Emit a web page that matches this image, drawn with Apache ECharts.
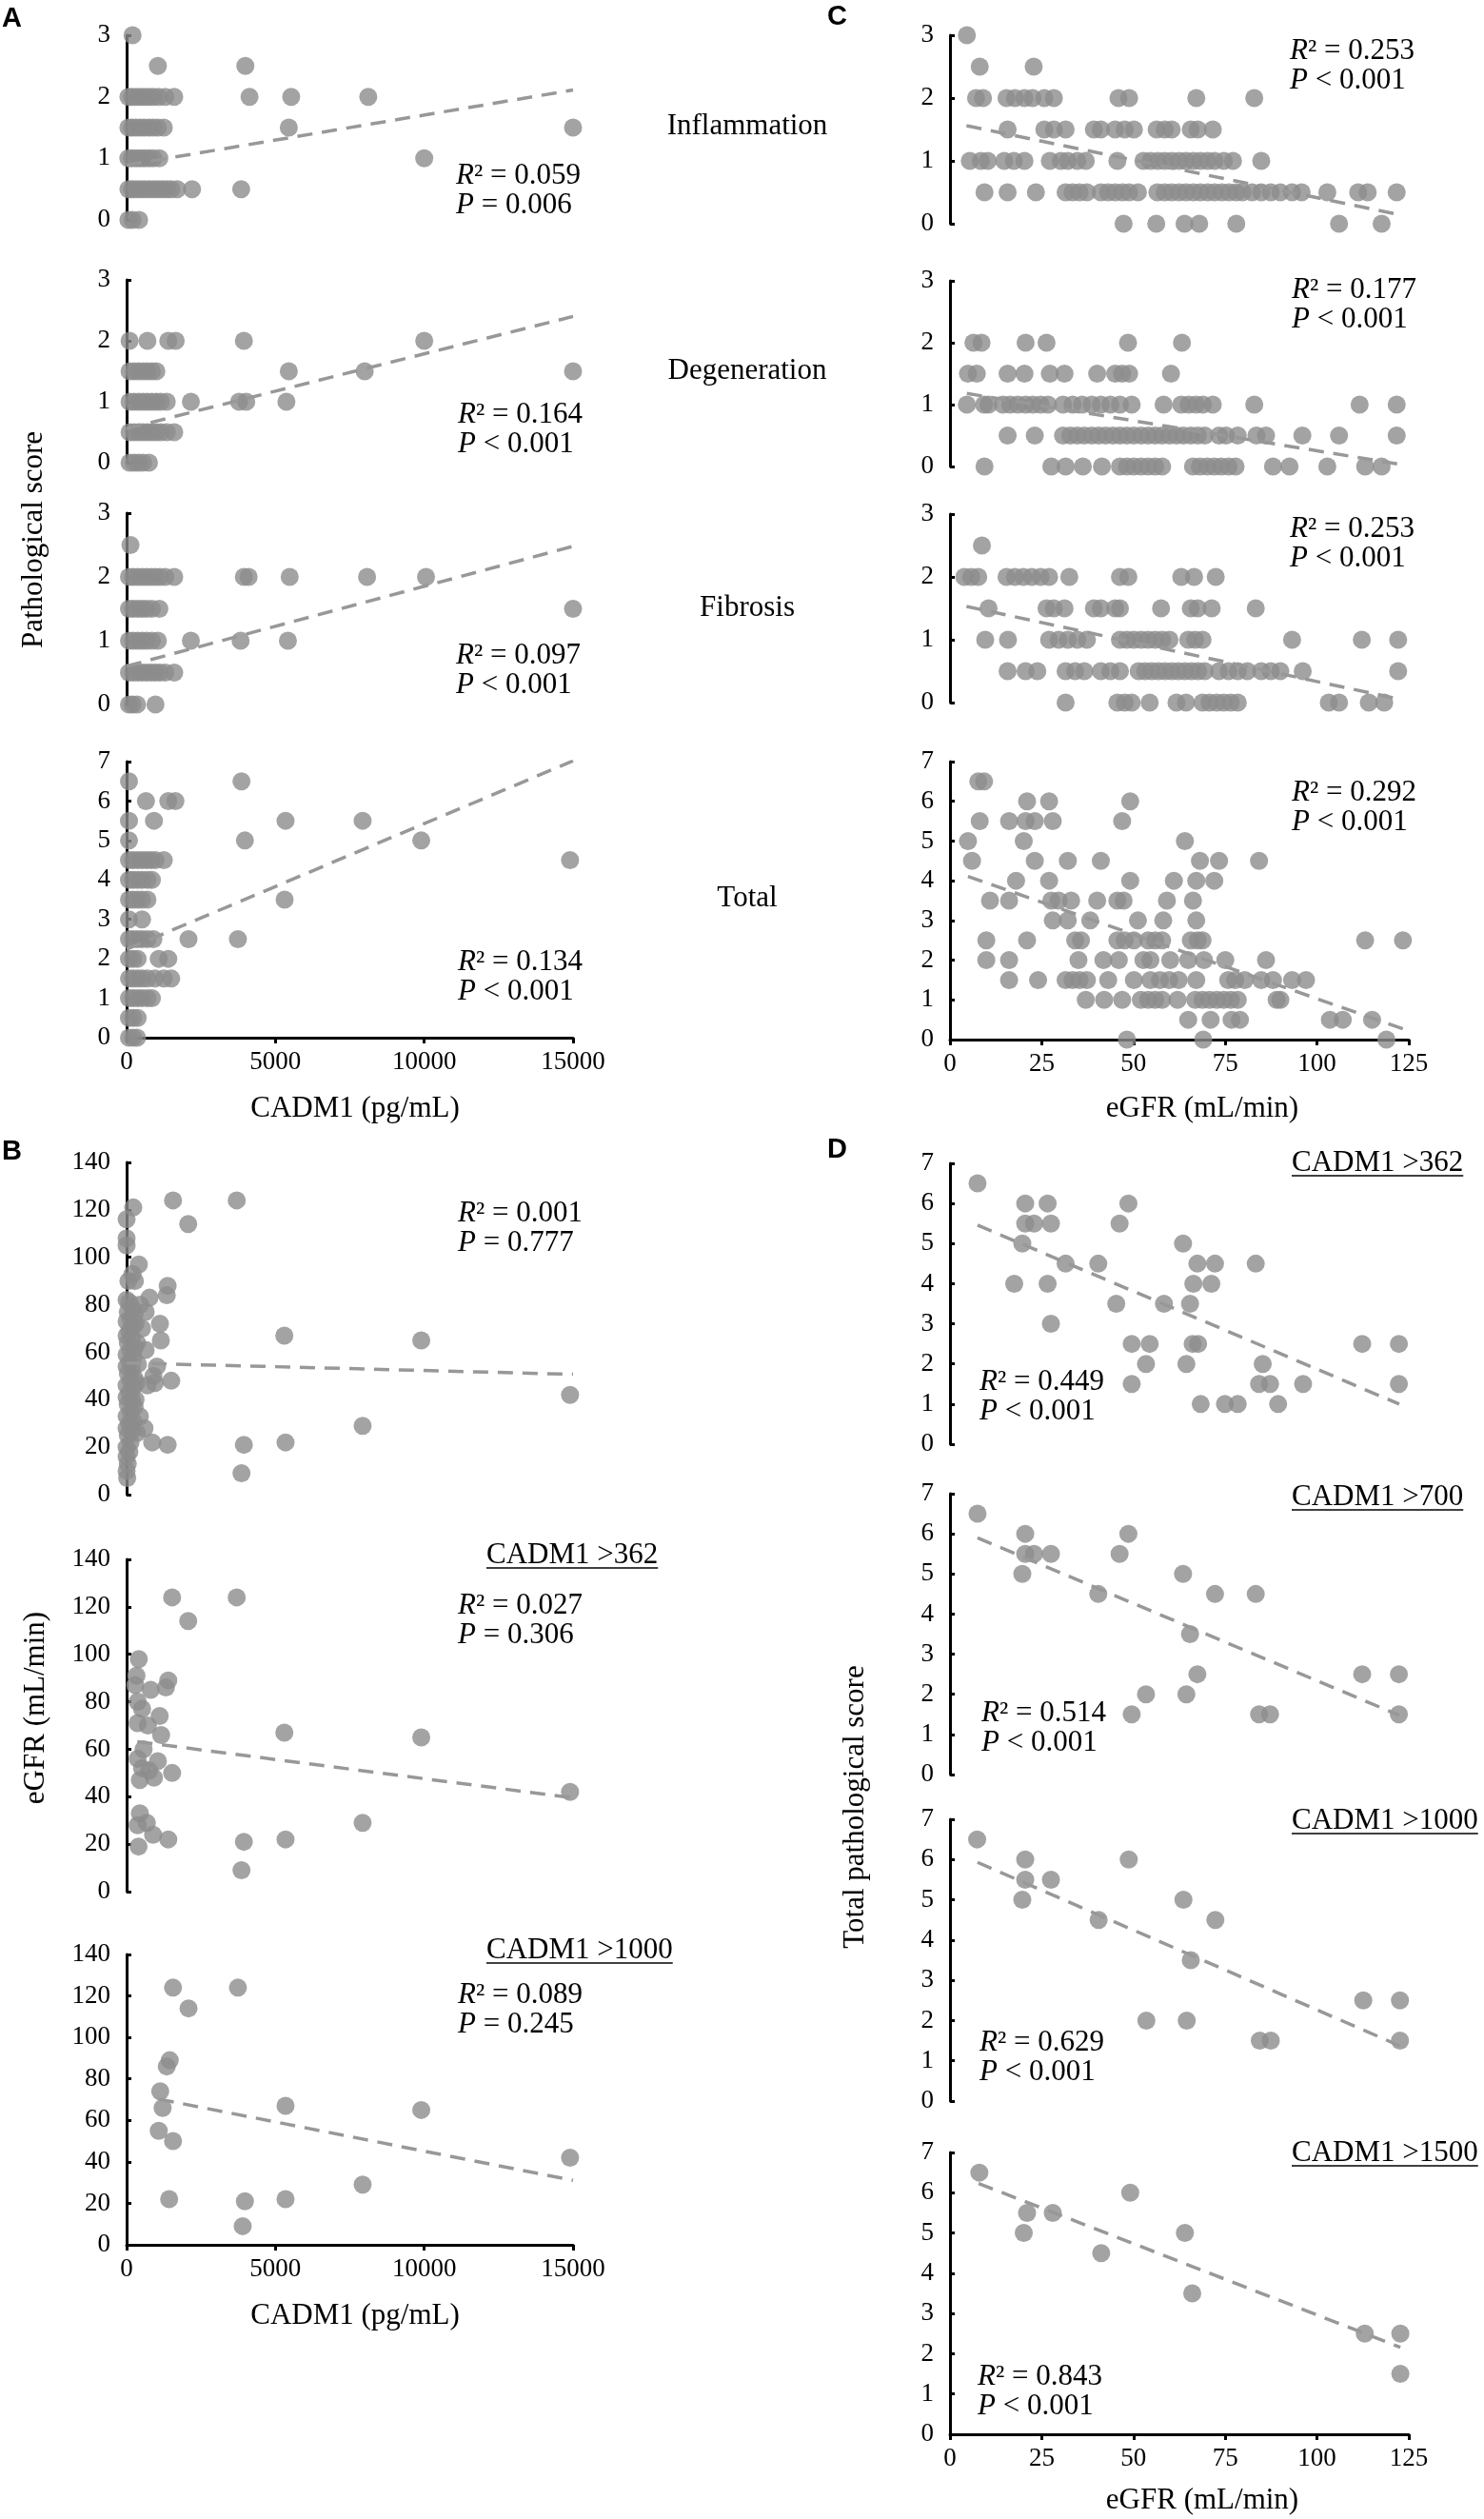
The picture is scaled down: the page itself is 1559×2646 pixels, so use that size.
<!DOCTYPE html>
<html>
<head>
<meta charset="utf-8">
<script src="https://cdn.jsdelivr.net/npm/echarts@6/dist/echarts.min.js"></script>
<style>
html, body { margin: 0; padding: 0; background: #fff; }
#chart { width: 1559px; height: 2646px; }
</style>
</head>
<body>
<div id="chart"></div>
<script>
// score rows: [score, [CADM1 or eGFR values at that score]]
var inflamCadm = [
    [3, [200]],
    [2.5, [1050, 3990]],
    [2, [60, 180, 320, 460, 600, 750, 900, 1080, 1300, 1600, 4130, 5530, 8120]],
    [1.5, [60, 180, 320, 460, 600, 750, 900, 1050, 1250, 5450, 15000]],
    [1, [60, 180, 320, 460, 600, 750, 900, 1100, 10000]],
    [0.5, [60, 180, 320, 460, 600, 750, 900, 1050, 1200, 1350, 1500, 1700, 2200, 3850]],
    [0, [60, 200, 420]]
];
var degenCadm = [
    [2, [100, 700, 1400, 1650, 3940, 10000]],
    [1.5, [100, 250, 400, 550, 700, 850, 1000, 5450, 8000, 15000]],
    [1, [100, 250, 400, 550, 700, 850, 1000, 1150, 1350, 2160, 3780, 4020, 5370]],
    [0.5, [100, 250, 400, 550, 700, 850, 1000, 1150, 1350, 1600]],
    [0, [100, 250, 400, 550, 750]]
];
var fibroCadm = [
    [2.5, [130]],
    [2, [80, 220, 370, 520, 670, 820, 970, 1120, 1300, 1600, 3940, 4100, 5480, 8080, 10060]],
    [1.5, [80, 220, 370, 520, 670, 850, 1100, 15000]],
    [1, [80, 220, 370, 520, 670, 850, 1050, 2160, 3830, 5420]],
    [0.5, [80, 220, 370, 520, 670, 820, 970, 1120, 1300, 1600]],
    [0, [80, 200, 350, 970]]
];
var totalCadm = [
    [6.5, [80, 3860]],
    [6, [650, 1400, 1640]],
    [5.5, [80, 920, 5340, 7930]],
    [5, [80, 3975, 9900]],
    [4.5, [80, 220, 370, 520, 670, 820, 970, 1250, 14900]],
    [4, [80, 220, 370, 520, 700, 850]],
    [3.5, [80, 220, 370, 520, 700, 5310]],
    [3, [80, 520]],
    [2.5, [80, 220, 370, 520, 700, 900, 2080, 3740]],
    [2, [80, 220, 370, 1080, 1400]],
    [1.5, [80, 220, 370, 520, 700, 950, 1250, 1500]],
    [1, [80, 220, 370, 520, 700, 850]],
    [0.5, [80, 220, 370]],
    [0, [80, 220, 350]]
];

// [CADM1, eGFR]
var egfrCadmAll = [
    [1560, 124], [3700, 124], [2070, 114], [224, 121], [0, 116], [0, 108], [0, 105], [410, 97],
    [200, 93], [280, 90], [770, 83], [1380, 88], [1350, 84], [1120, 72], [1150, 65], [5300, 67],
    [9900, 65], [640, 77], [520, 70], [640, 61], [1020, 54], [950, 47], [1500, 48], [14900, 42],
    [7930, 29], [3940, 21], [5340, 22], [3860, 9], [1380, 21], [860, 22], [445, 33], [600, 28],
    [0, 82], [90, 81], [180, 79], [40, 77], [270, 76], [130, 74], [0, 73], [220, 71], [90, 69],
    [0, 67], [180, 66], [40, 64], [270, 62], [130, 61], [0, 59], [220, 58], [90, 56], [0, 54],
    [180, 53], [40, 51], [270, 49], [130, 48], [0, 46], [220, 45], [90, 43], [0, 41], [180, 40],
    [40, 38], [270, 37], [130, 35], [0, 33], [220, 31], [90, 30], [0, 28], [180, 27], [40, 25],
    [130, 22], [0, 20], [90, 18], [0, 16], [40, 13], [0, 10], [20, 7], [350, 64], [380, 55],
    [330, 47], [300, 40], [350, 26], [300, 72], [700, 46], [900, 50], [450, 80], [60, 90]
];
var egfrCadm362 = [
    [1530, 124], [3700, 124], [2070, 114], [410, 98], [330, 91], [290, 87], [370, 80], [810, 85],
    [1400, 89], [1320, 86], [1110, 74], [520, 77], [370, 71], [715, 70], [1160, 66], [5300, 67],
    [9900, 65], [570, 60], [370, 56], [1050, 55], [520, 52], [445, 47], [920, 48], [1530, 50],
    [760, 51], [14900, 42], [445, 33], [370, 28], [680, 29], [890, 24], [1400, 22], [400, 19],
    [3940, 21], [5340, 22], [3860, 9], [7930, 29]
];
var egfrCadm1000 = [
    [1560, 124], [3740, 124], [2080, 114], [1450, 89], [1350, 86], [1130, 74], [1210, 66], [1080, 55],
    [1560, 50], [1430, 22], [3975, 21], [3900, 9], [5340, 22], [5340, 67], [7930, 29], [9900, 65],
    [14900, 42]
];

var inflamEgfr = [
    [3, [4.6]],
    [2.5, [8.1, 22.8]],
    [2, [7.1, 9.0, 15.4, 17.7, 20.3, 22.5, 25.7, 28.3, 45.9, 48.8, 67.1, 82.9]],
    [1.5, [15.7, 25.7, 28.3, 31.5, 39.2, 41.1, 45, 47.6, 50.1, 56.3, 58.5, 60.4, 65.6, 67.5, 71.6]],
    [1, [5.4, 8.4, 10.3, 14.8, 17.4, 20.3, 27.2, 30.2, 32.1, 34.7, 37, 45.6, 52.7, 54.6, 56.6, 58.5,
        60.4, 62.4, 64.3, 66.3, 68.2, 70.2, 72.1, 74.6, 77.1, 84.8]],
    [0.5, [9.4, 15.7, 23.4, 31.5, 33.4, 35.3, 37.3, 41.1, 43.1, 45, 47, 48.8, 51.2, 56.5, 58.5, 60.4,
        62.4, 64.3, 66.3, 68.2, 70.2, 72.1, 74.1, 76, 78, 79.7, 82.3, 84.8, 87.4, 90, 93.2, 95.8,
        102.8, 111.2, 113.8, 121.7]],
    [0, [47.3, 56.2, 63.9, 67.9, 78, 106, 117.6]]
];
var degenEgfr = [
    [2, [6.4, 8.6, 20.6, 26.3, 48.5, 63.2]],
    [1.5, [4.9, 7.3, 15.7, 20.3, 27.2, 31.2, 40.1, 45, 46.9, 48.8, 60.2]],
    [1, [4.6, 9.3, 10.5, 14.4, 16.4, 18.5, 20.6, 22.6, 24.7, 26.7, 30.8, 33.4, 36, 38.6, 41.1, 43.7,
        46.3, 49.5, 58.2, 63, 65, 67, 68.9, 71.6, 82.9, 111.6, 121.7]],
    [0.5, [15.7, 23.1, 30.8, 32.8, 34.7, 36.6, 38.6, 40.5, 42.4, 44.4, 46.3, 48.2, 50.1, 52.1, 54,
        55.9, 57.8, 59.8, 61.7, 63.6, 65.6, 67.5, 69.4, 73.3, 75.2, 78.4, 83.5, 86.1, 96, 106, 121.7]],
    [0, [9.4, 27.6, 31.5, 36.2, 41.4, 46.3, 48.2, 50.1, 52.1, 54, 55.9, 57.8, 66.2, 68.1, 70.1, 72,
        73.9, 75.9, 77.8, 88, 92.5, 102.8, 113.1, 117.6]]
];
var fibroEgfr = [
    [2.5, [8.7]],
    [2, [3.9, 5.8, 7.7, 15.4, 17.7, 20, 22.3, 24.7, 27, 32.5, 46.3, 48.6, 63, 66.5, 72.4]],
    [1.5, [10.5, 26.3, 28.3, 31.2, 39.2, 41.1, 45, 46.3, 57.5, 65.6, 67.5, 71.3, 83.3]],
    [1, [9.6, 15.8, 27, 29.6, 32.1, 34.7, 37.3, 46.3, 48.2, 50.1, 52.1, 54, 55.9, 57.8, 59.8, 64.9,
        66.8, 68.8, 93.2, 112.2, 122.1]],
    [0.5, [15.7, 20.6, 23.8, 31.5, 34.1, 36.6, 41.1, 43.7, 46.3, 51.4, 53.2, 55, 56.8, 58.6, 60.4,
        62.2, 64, 65.8, 67.6, 69.4, 73.3, 75.9, 78.4, 81, 84.8, 87.4, 90, 96.1, 122.1]],
    [0, [31.5, 45.6, 47.6, 49.5, 54.4, 61.7, 64.3, 68.8, 70.7, 72.7, 74.6, 76.5, 78.4, 103.2, 106,
        114.1, 118.3]]
];
var totalEgfr = [
    [6.5, [7.7, 9.3]],
    [6, [21, 27, 49.1]],
    [5.5, [8.1, 16.1, 20.6, 23.1, 28, 46.9]],
    [5, [4.9, 20.1, 64]],
    [4.5, [6, 23.1, 32.1, 41.1, 68.1, 73.3, 84.2]],
    [4, [18, 27, 49.1, 61, 67.1, 72]],
    [3.5, [10.9, 16.1, 27.6, 29.6, 33, 40.1, 45.6, 47.3, 59.1, 66.2]],
    [3, [28, 32.1, 38.2, 51.2, 58.1, 67.1]],
    [2.5, [9.9, 21, 34.1, 35.7, 45.6, 47.6, 50.1, 54, 55.9, 57.8, 65.6, 67.5, 68.8, 113.1, 123.4]],
    [2, [9.9, 16.1, 35, 41.8, 46, 52.7, 54.6, 60, 64.9, 69.2, 75, 86.1]],
    [1.5, [16.1, 24, 31.5, 33.4, 35.3, 37.3, 43.1, 50.1, 54.6, 57.2, 59.7, 62.3, 67.1, 75.8, 77.7,
        80.3, 84.8, 88, 93.2, 97]],
    [1, [37, 42, 46.9, 52, 54, 55.9, 57.8, 62, 66.8, 68.8, 70.7, 72.7, 74.6, 76.5, 78.4, 89, 90]],
    [0.5, [64.9, 71, 76.7, 79, 103.5, 107, 115]],
    [0, [48.2, 69, 118.9]]
];

var total362 = [
    [6.5, [7.5]], [6, [20.5, 26.6, 48.6]], [5.5, [20.5, 22.9, 27.5, 46.2]], [5, [19.7, 63.5]],
    [4.5, [31.5, 40.4, 67.4, 72.2, 83.3]], [4, [17.5, 26.6, 66.3, 71.2]], [3.5, [45.3, 58.3, 65.4]],
    [3, [27.5]], [2.5, [49.5, 54.4, 66.1, 67.6, 112.3, 122.3]], [2, [53.4, 64.4, 85.2]],
    [1.5, [49.5, 84.2, 87.2, 96.2, 122.3]], [1, [68.3, 74.9, 78.4, 89.4]]
];
var total700 = [
    [6.5, [7.5]], [6, [20.5, 48.6]], [5.5, [20.5, 22.9, 27.5, 46.2]], [5, [19.7, 63.5]],
    [4.5, [40.4, 72.2, 83.3]], [3.5, [65.4]], [2.5, [67.4, 112.3, 122.3]], [2, [53.4, 64.4]],
    [1.5, [49.5, 84.2, 87.2, 122.3]]
];
var total1000 = [
    [6.5, [7.4]], [6, [20.5, 48.7]], [5.5, [20.5, 27.5]], [5, [19.7, 63.6]], [4.5, [40.5, 72.3]],
    [3.5, [65.6]], [2.5, [112.6, 122.6]], [2, [53.5, 64.5]], [1.5, [84.4, 87.4, 122.6]]
];
var total1500 = [
    [6.5, [8]], [6, [49.1]], [5.5, [21, 28]], [5, [20.1, 64]], [4.5, [41.2]], [3.5, [66]],
    [2.5, [113, 122.7]], [1.5, [122.7]]
];

// trend line end points
var trendA = [
    [[0, 0.89], [15000, 2.11]],
    [[0, 0.56], [15000, 2.40]],
    [[0, 0.60], [15000, 2.48]],
    [[0, 2.24], [15000, 7.02]]
];
var trendB = [
    [[0, 55.5], [15000, 50.7]],
    [[362, 63.2], [15000, 39.5]],
    [[1080, 70.3], [15000, 31.1]]
];
var trendC = [
    [[4.5, 1.56], [122, 0.15]],
    [[4.6, 1.18], [122, 0.04]],
    [[4.5, 1.53], [122, 0.06]],
    [[4.9, 4.11], [123.4, 0.27]]
];
var trendD = [
    [[7.5, 5.46], [122.4, 1.0]],
    [[7.5, 5.9], [122.3, 1.48]],
    [[7.5, 5.93], [122.6, 1.37]],
    [[7.8, 6.23], [122.7, 2.16]]
];

var statsA = [['0.059', '= 0.006'], ['0.164', '< 0.001'], ['0.097', '< 0.001'], ['0.134', '< 0.001']];
var statsB = [['0.001', '= 0.777'], ['0.027', '= 0.306'], ['0.089', '= 0.245']];
var statsC = [['0.253', '< 0.001'], ['0.177', '< 0.001'], ['0.253', '< 0.001'], ['0.292', '< 0.001']];
var statsD = [['0.449', '< 0.001'], ['0.514', '< 0.001'], ['0.629', '< 0.001'], ['0.843', '< 0.001']];
var rowLabels = ['Inflammation', 'Degeneration', 'Fibrosis', 'Total'];
var subsetB = ['CADM1 >362', 'CADM1 >1000'];
var subsetD = ['CADM1 >362', 'CADM1 >700', 'CADM1 >1000', 'CADM1 >1500'];

function flat(rows) {
    var out = [];
    rows.forEach(function (r) {
        r[1].forEach(function (v) { out.push([v, r[0]]); });
    });
    return out;
}

var SERIF = '"Liberation Serif", "Times New Roman", serif';
var DOT = '#8c8c8c';
var DASH = '#989898';

var cadmX = [0, 15000, 5000];
var egfrX = [0, 125, 25];
var score3 = [0, 3, 1];
var score7 = [0, 7, 1];
var egfrY = [0, 140, 20];

// grid rect [left, top, width, height]
var panels = [
    { g: [133, 37, 469, 194], x: cadmX, y: score3, d: flat(inflamCadm), t: trendA[0] },
    { g: [133, 294, 469, 192], x: cadmX, y: score3, d: flat(degenCadm), t: trendA[1] },
    { g: [133, 539, 469, 201], x: cadmX, y: score3, d: flat(fibroCadm), t: trendA[2] },
    { g: [133, 800, 469, 290], x: cadmX, y: score7, d: flat(totalCadm), t: trendA[3], showX: true },
    { g: [133, 1221, 469, 349], x: cadmX, y: egfrY, d: egfrCadmAll, t: trendB[0] },
    { g: [133, 1638, 469, 349], x: cadmX, y: egfrY, d: egfrCadm362, t: trendB[1] },
    { g: [133, 2053, 469, 305], x: cadmX, y: egfrY, d: egfrCadm1000, t: trendB[2], showX: true },
    { g: [998, 37, 482, 198], x: egfrX, y: score3, d: flat(inflamEgfr), t: trendC[0] },
    { g: [998, 295, 482, 195], x: egfrX, y: score3, d: flat(degenEgfr), t: trendC[1] },
    { g: [998, 540, 482, 198], x: egfrX, y: score3, d: flat(fibroEgfr), t: trendC[2] },
    { g: [998, 800, 482, 292], x: egfrX, y: score7, d: flat(totalEgfr), t: trendC[3], showX: true },
    { g: [998, 1222, 482, 295], x: egfrX, y: score7, d: flat(total362), t: trendD[0] },
    { g: [998, 1569, 482, 295], x: egfrX, y: score7, d: flat(total700), t: trendD[1] },
    { g: [998, 1911, 482, 296], x: egfrX, y: score7, d: flat(total1000), t: trendD[2] },
    { g: [998, 2261, 482, 296], x: egfrX, y: score7, d: flat(total1500), t: trendD[3], showX: true }
];

var axisLine = { show: true, onZero: false, lineStyle: { color: '#000', width: 3 } };

var grids = [], xAxes = [], yAxes = [], series = [];
panels.forEach(function (p, i) {
    grids.push({ left: p.g[0], top: p.g[1], width: p.g[2], height: p.g[3] });
    xAxes.push({
        gridIndex: i, type: 'value', min: p.x[0], max: p.x[1], interval: p.x[2],
        show: !!p.showX, axisLine: axisLine,
        axisTick: { show: true, length: 6, lineStyle: { color: '#000', width: 3 } },
        axisLabel: {
            color: '#000', fontFamily: SERIF, fontSize: 27, margin: 12,
            formatter: function (v) { return String(v); }
        },
        splitLine: { show: false }
    });
    yAxes.push({
        gridIndex: i, type: 'value', min: p.y[0], max: p.y[1], interval: p.y[2],
        axisLine: axisLine,
        axisTick: { show: true, inside: true, length: 5, lineStyle: { color: '#000', width: 3 } },
        axisLabel: { color: '#000', fontFamily: SERIF, fontSize: 27, margin: 17 },
        splitLine: { show: false }
    });
    series.push({
        type: 'scatter', xAxisIndex: i, yAxisIndex: i, data: p.d,
        symbolSize: 19, clip: false, itemStyle: { color: DOT }, z: 2
    });
    series.push({
        type: 'line', xAxisIndex: i, yAxisIndex: i, data: p.t,
        symbol: 'none', silent: true, z: 3,
        lineStyle: { color: DASH, width: 3.5, type: [16, 10] }
    });
});

var graphics = [];
function text(x, y, str, extra) {
    var style = {
        text: str, x: 0, y: 0, fill: '#000', fontFamily: SERIF, fontSize: 31,
        align: 'left', textAlign: 'left', verticalAlign: 'middle', textVerticalAlign: 'middle'
    };
    for (var k in extra) style[k] = extra[k];
    var el = { type: 'text', x: x, y: y, style: style, silent: true };
    graphics.push(el);
    return el;
}
function centered(x, y, str) {
    return text(x, y, str, { align: 'center', textAlign: 'center' });
}
function stat(x, y, s) {
    var rich = { i: { fontStyle: 'italic', fontFamily: SERIF, fontSize: 31 }, n: { fontFamily: SERIF, fontSize: 31 } };
    text(x, y, '{i|R}{n|² = ' + s[0] + '}', { rich: rich });
    text(x, y + 31, '{i|P}{n| ' + s[1] + '}', { rich: rich });
}
var measure = document.createElement('canvas').getContext('2d');
measure.font = '31px "Liberation Serif"';
function underlined(x, y, str) {
    text(x, y, str);
    var w = measure.measureText(str).width;
    graphics.push({ type: 'line', silent: true, shape: { x1: x, y1: y + 13, x2: x + w, y2: y + 13 }, style: { stroke: '#000', lineWidth: 1.5 } });
}

// panel letters
[['A', 2, 20], ['B', 2, 1210], ['C', 869, 18], ['D', 869, 1208]].forEach(function (l) {
    text(l[1], l[2], l[0], { fontFamily: '"Liberation Sans", Arial, sans-serif', fontWeight: 'bold', fontSize: 29 });
});

// row labels between A and C
[133, 390, 639, 944].forEach(function (y, i) { centered(785, y, rowLabels[i]); });

// axis titles
centered(373, 1165, 'CADM1 (pg/mL)');
centered(373, 2433, 'CADM1 (pg/mL)');
centered(1263, 1165, 'eGFR (mL/min)');
centered(1263, 2627, 'eGFR (mL/min)');
var yt1 = centered(36, 567, 'Pathological score'); yt1.rotation = Math.PI / 2;
var yt2 = centered(38, 1794, 'eGFR (mL/min)'); yt2.rotation = Math.PI / 2;
var yt3 = centered(899, 1898, 'Total pathological score'); yt3.rotation = Math.PI / 2;

// statistics
[[479, 185], [481, 436], [479, 689], [481, 1011]].forEach(function (p, i) { stat(p[0], p[1], statsA[i]); });
[[481, 1275], [481, 1687], [481, 2096]].forEach(function (p, i) { stat(p[0], p[1], statsB[i]); });
[[1355, 54], [1357, 305], [1355, 556], [1357, 833]].forEach(function (p, i) { stat(p[0], p[1], statsC[i]); });
[[1029, 1452], [1031, 1800], [1029, 2146], [1027, 2497]].forEach(function (p, i) { stat(p[0], p[1], statsD[i]); });

// subset titles
underlined(511, 1634, subsetB[0]);
underlined(511, 2049, subsetB[1]);
[1222, 1573, 1913, 2262].forEach(function (y, i) { underlined(1357, y, subsetD[i]); });

var myChart = echarts.init(document.getElementById('chart'));
var option = {
    backgroundColor: '#fff',
    animation: false,
    grid: grids,
    xAxis: xAxes,
    yAxis: yAxes,
    series: series,
    graphic: { elements: graphics }
};
myChart.setOption(option);
</script>
</body>
</html>
